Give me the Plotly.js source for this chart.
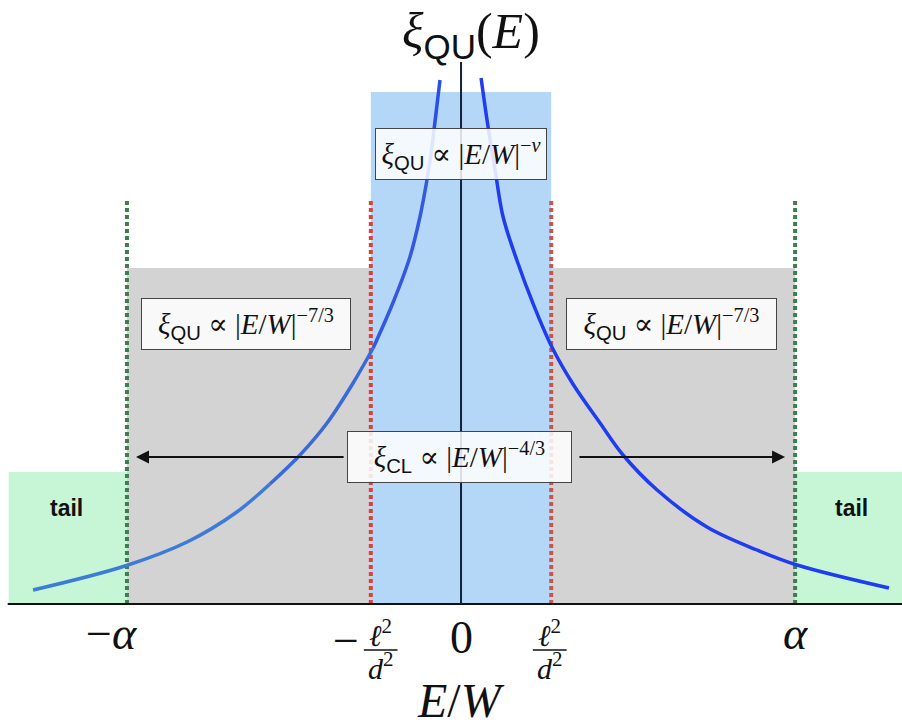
<!DOCTYPE html>
<html><head><meta charset="utf-8">
<script src="https://cdn.plot.ly/plotly-3.0.1.min.js"></script>
<style>html,body{margin:0;padding:0;background:#fff}</style>
</head><body><div id="chart" style="width:902px;height:727px"></div>
<script>
// Schematic data (x in units of E/W with alpha = 1, y in arbitrary units)
const alpha = 1;
const l2d2 = 0.27;
const tailHeight = 132;
const grayHeight = 336;
const blueHeight = 512;
const markerTop = 404;
const axisTop = 542;
const arrowY = 147;

// xi_QU(E)
const leftX = [-1.281, -1.006, -0.820, -0.671, -0.572, -0.482, -0.401, -0.323, -0.263, -0.204, -0.153, -0.123, -0.102, -0.090, -0.078, -0.063];
const leftY = [14, 38, 62, 92, 120, 149, 181, 221, 256, 301, 347, 387, 424, 450, 482, 524];
const rightX = [0.060, 0.081, 0.102, 0.126, 0.168, 0.215, 0.272, 0.335, 0.416, 0.485, 0.587, 0.736, 0.886, 1.006, 1.281];
const rightY = [526, 477, 434, 387, 343, 301, 257, 220, 181, 149, 114, 77, 54, 39, 16];

const tickPos = [-alpha, 0, alpha];
const tickText = ['−<i>α</i>', '0', '<i>α</i>'];

const SERIF = 'Liberation Serif, DejaVu Serif, serif';
const SANS = 'Liberation Sans, Arial, sans-serif';

// split left branch into colour segments (lighter toward the tail)
const leftColors = ['#3c7bd6', '#3a6ad8', '#3458e0', '#2a4fe8'];
const traces = [];
const segBreaks = [0, 4, 8, 12, leftX.length - 1];
for (let s = 0; s < 4; s++) {
  traces.push({
    x: leftX.slice(segBreaks[s], segBreaks[s + 1] + 1),
    y: leftY.slice(segBreaks[s], segBreaks[s + 1] + 1),
    mode: 'lines', line: {color: leftColors[s], width: 3.5, shape: 'spline', smoothing: 1},
    hoverinfo: 'skip', showlegend: false
  });
}
traces.push({x: rightX, y: rightY, mode: 'lines',
  line: {color: '#1f3cf0', width: 3.5, shape: 'spline', smoothing: 1}, hoverinfo: 'skip', showlegend: false});

const dotted = '4px,3px';
const shapes = [
  // tails
  {type: 'rect', layer: 'below', x0: -1.354, x1: -alpha, y0: 0, y1: tailHeight, fillcolor: '#c6f6d6', line: {width: 0}},
  {type: 'rect', layer: 'below', x0: alpha, x1: 1.32, y0: 0, y1: tailHeight, fillcolor: '#c6f6d6', line: {width: 0}},
  // gray region
  {type: 'rect', layer: 'below', x0: -alpha, x1: alpha, y0: 0, y1: grayHeight, fillcolor: '#d3d3d3', line: {width: 0}},
  // blue region
  {type: 'rect', layer: 'below', x0: -l2d2, x1: l2d2, y0: 0, y1: blueHeight, fillcolor: '#b4d7f8', line: {width: 0}},
  // dotted markers
  {type: 'line', layer: 'below', x0: -alpha, x1: -alpha, y0: 0, y1: markerTop, line: {color: '#3f7d4f', width: 4, dash: dotted}},
  {type: 'line', layer: 'below', x0: alpha, x1: alpha, y0: 0, y1: markerTop, line: {color: '#3f7d4f', width: 4, dash: dotted}},
  {type: 'line', layer: 'below', x0: -l2d2, x1: -l2d2, y0: 0, y1: markerTop, line: {color: '#d5433e', width: 4, dash: dotted}},
  {type: 'line', layer: 'below', x0: l2d2, x1: l2d2, y0: 0, y1: markerTop, line: {color: '#c8544f', width: 4, dash: dotted}},
  // axes
  {type: 'line', layer: 'below', x0: -1.357, x1: 1.32, y0: 0, y1: 0, line: {color: '#111', width: 2}},
  {type: 'line', layer: 'below', x0: 0, x1: 0, y0: 0, y1: axisTop, line: {color: '#12223a', width: 2}},
  // fraction bars
  {type: 'line', x0: -0.291, x1: -0.190, y0: -46, y1: -46, line: {color: '#111', width: 1.5}},
  {type: 'line', x0: 0.215, x1: 0.316, y0: -46, y1: -46, line: {color: '#111', width: 1.5}}
];

const boxFont = {family: SERIF, size: 29, color: '#111'};
const qu = "<span style='font-family:Liberation Sans'>QU</span>";
const cl = "<span style='font-family:Liberation Sans'>CL</span>";
function box(x, y, w, text) {
  return {x: x, y: y, xref: 'x', yref: 'y', text: text, showarrow: false,
    bgcolor: 'rgba(255,255,255,0.85)', bordercolor: '#444', borderwidth: 1, borderpad: 1,
    width: w, height: 48, font: boxFont, align: 'center', valign: 'middle'};
}
const annotations = [
  box(0, 450, 168, '<i>ξ</i><sub>' + qu + '</sub> ∝ |<i>E</i>/<i>W</i>|<sup>−<i>ν</i></sup>'),
  box(-0.644, 280, 206, '<i>ξ</i><sub>' + qu + '</sub> ∝ |<i>E</i>/<i>W</i>|<sup>−7/3</sup>'),
  box(0.630, 280, 207, '<i>ξ</i><sub>' + qu + '</sub> ∝ |<i>E</i>/<i>W</i>|<sup>−7/3</sup>'),
  box(-0.006, 147, 221, '<i>ξ</i><sub>' + cl + '</sub> ∝ |<i>E</i>/<i>W</i>|<sup>−4/3</sup>'),
  // arrows
  {x: -0.973, y: arrowY, ax: -0.347, ay: arrowY, xref: 'x', yref: 'y', axref: 'x', ayref: 'y',
   text: '', showarrow: true, arrowhead: 2, arrowsize: 1.3, arrowwidth: 2, arrowcolor: '#111'},
  {x: 0.970, y: arrowY, ax: 0.350, ay: arrowY, xref: 'x', yref: 'y', axref: 'x', ayref: 'y',
   text: '', showarrow: true, arrowhead: 2, arrowsize: 1.3, arrowwidth: 2, arrowcolor: '#111'},
  // tail labels
  {x: -1.18, y: 96, text: '<b>tail</b>', showarrow: false, font: {family: SANS, size: 23, color: '#111'}},
  {x: 1.17, y: 96, text: '<b>tail</b>', showarrow: false, font: {family: SANS, size: 23, color: '#111'}},
  // tick labels
  {x: -1.045, y: -29, text: tickText[0], showarrow: false, font: {family: SERIF, size: 46, color: '#111'}},
  {x: tickPos[1], y: -33, text: tickText[1], showarrow: false, font: {family: SERIF, size: 46, color: '#111'}},
  {x: tickPos[2], y: -29, text: tickText[2], showarrow: false, font: {family: SERIF, size: 46, color: '#111'}},
  // fractions
  {x: -0.345, y: -36, text: '−', showarrow: false, font: {family: SERIF, size: 46, color: '#111'}},
  {x: -0.240, y: -29, text: '<i>ℓ</i><sup>2</sup>', showarrow: false, font: {family: SERIF, size: 30, color: '#111'}},
  {x: -0.240, y: -62, text: '<i>d</i><sup>2</sup>', showarrow: false, font: {family: SERIF, size: 30, color: '#111'}},
  {x: 0.266, y: -29, text: '<i>ℓ</i><sup>2</sup>', showarrow: false, font: {family: SERIF, size: 30, color: '#111'}},
  {x: 0.266, y: -62, text: '<i>d</i><sup>2</sup>', showarrow: false, font: {family: SERIF, size: 30, color: '#111'}},
  // axis titles
  {x: 0, y: -96, text: '<i>E</i>/<i>W</i>', showarrow: false, font: {family: SERIF, size: 48, color: '#111'}},
  {x: 0.03, y: 570, text: '<i>ξ</i><sub><span style="font-family:Liberation Sans">QU</span></sub>(<i>E</i>)', showarrow: false, font: {family: SERIF, size: 50, color: '#111'}}
];

const layout = {
  width: 902, height: 727,
  margin: {l: 0, r: 0, t: 0, b: 0},
  paper_bgcolor: '#fff', plot_bgcolor: '#fff',
  xaxis: {range: [-1.38, 1.32], visible: false, fixedrange: true},
  yaxis: {range: [-123, 604], visible: false, fixedrange: true},
  shapes: shapes, annotations: annotations, showlegend: false
};
Plotly.newPlot('chart', traces, layout, {staticPlot: true, displayModeBar: false});
</script>
</body></html>
